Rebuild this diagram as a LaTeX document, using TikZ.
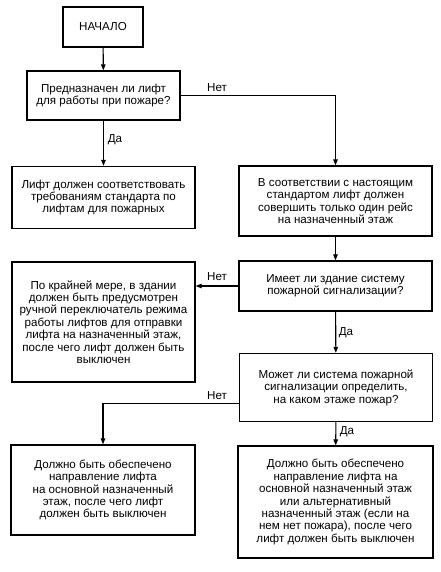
\documentclass[tikz,border=0pt]{standalone}
\usepackage{fontspec}
\setmainfont{Liberation Sans}
\usetikzlibrary{arrows.meta}
\begin{document}
\begin{tikzpicture}[x=1pt,y=-1pt,
  txt/.style={font=\fontsize{11.6}{12.4}\selectfont},
  box/.style={draw, line width=1.3pt, align=center, inner sep=2pt, txt},
  arr/.style={line width=1.1pt, -{Triangle[length=6pt,width=4.5pt]}},
  lbl/.style={txt, inner sep=1pt}]
\useasboundingbox[fill=white] (0,0) rectangle (440,572);

\node[box, minimum width=80pt, minimum height=40pt] (start) at (103,27) {НАЧАЛО};
\node[box, minimum width=153pt, minimum height=49pt] (q1) at (103.5,95.5)
  {Предназначен ли лифт\\для работы при пожаре?};
\node[box, minimum width=183pt, minimum height=62pt] (a) at (103.5,197.5)
  {Лифт должен соответствовать\\требованиям стандарта по\\лифтам для пожарных};
\node[box, minimum width=193pt, minimum height=70pt] (b) at (335.5,201)
  {В соответствии с настоящим\\стандартом лифт должен\\совершить только один рейс\\на назначенный этаж};
\node[box, minimum width=193pt, minimum height=50pt] (q2) at (335.5,286)
  {Имеет ли здание систему\\пожарной сигнализации?};
\node[box, minimum width=183pt, minimum height=120pt] (c) at (103.5,322)
  {По крайней мере, в здании\\должен быть предусмотрен\\ручной переключатель режима\\работы лифтов для отправки\\лифта на назначенный этаж,\\после чего лифт должен быть\\выключен};
\node[box, minimum width=193pt, minimum height=68pt] (q3) at (336,387.5)
  {Может ли система пожарной\\сигнализации определить,\\на каком этаже пожар?};
\node[box, minimum width=184pt, minimum height=90pt] (d) at (103,490)
  {Должно быть обеспечено\\направление лифта\\на основной назначенный\\этаж, после чего лифт\\должен быть выключен};
\node[box, minimum width=195pt, minimum height=112pt] (e) at (335.5,502)
  {Должно быть обеспечено\\направление лифта на\\основной назначенный этаж\\или альтернативный\\назначенный этаж (если на\\нем нет пожара), после чего\\лифт должен быть выключен};

\draw[arr] (start) -- (q1);
\draw[arr] (q1) -- (a);
\draw[arr] (q1.east) -- (q1.east -| b.north) -- (b.north);
\draw[arr] (b) -- (q2);
\draw[arr] (q2.west) -- (q2.west -| c.east);
\draw[arr] (q2) -- (q3);
\coordinate (q3n) at ([yshift=-16pt]q3.west);
\draw[arr] (q3n) -- (q3n -| d.north) -- (d.north);
\draw[arr] (q3) -- (e);

\node[lbl] (l1) at (115,140) {Да};
\node[lbl] (l2) at (217,88) {Нет};
\node[lbl] (l3) at (217,277) {Нет};
\node[lbl] (l4) at (346,333) {Да};
\node[lbl] (l5) at (217,396) {Нет};
\node[lbl] (l6) at (347,432) {Да};
\end{tikzpicture}
\end{document}
